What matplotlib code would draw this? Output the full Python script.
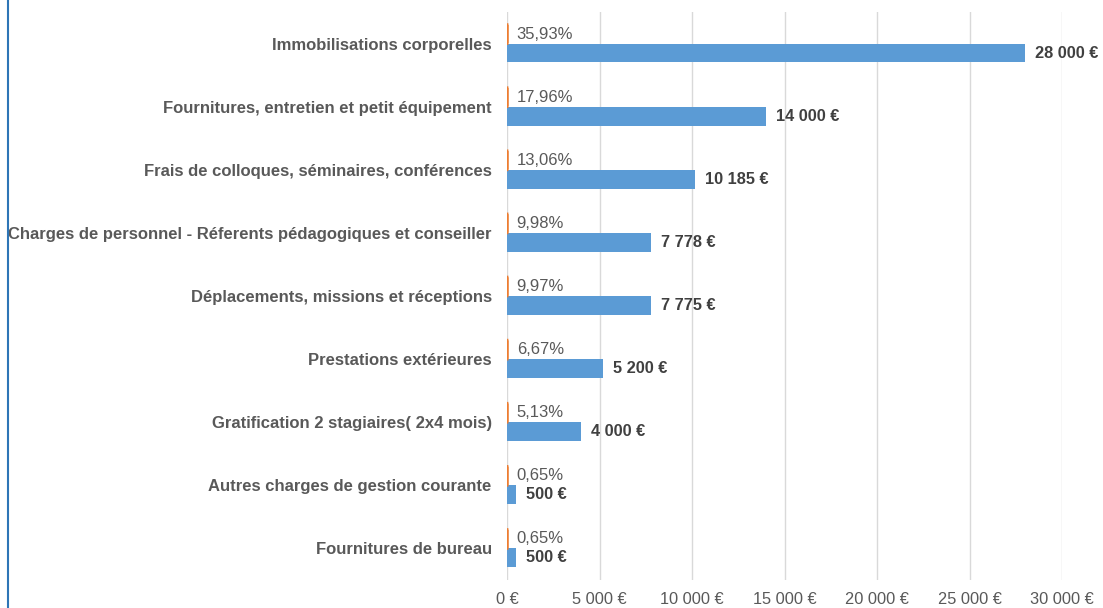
import numpy as np
import matplotlib
matplotlib.use("Agg")
import matplotlib.pyplot as plt
from matplotlib.lines import Line2D

plt.rcParams['font.family'] = ['Liberation Sans', 'DejaVu Sans']

categories = ['Immobilisations corporelles',
              'Fournitures, entretien et petit équipement',
              'Frais de colloques, séminaires, conférences',
              'Charges de personnel - Réferents pédagogiques et conseiller',
              'Déplacements, missions et réceptions',
              'Prestations extérieures',
              'Gratification 2 stagiaires( 2x4 mois)',
              'Autres charges de gestion courante',
              'Fournitures de bureau']
amounts = [28000, 14000, 10185, 7778, 7775, 5200, 4000, 500, 500]
shares = [0.3593, 0.1796, 0.1306, 0.0998, 0.0997, 0.0667, 0.0513, 0.0065, 0.0065]
xticks = [0, 5000, 10000, 15000, 20000, 25000, 30000]

blue = '#5B9BD5'
orange = '#ED7D31'
grey = '#595959'


def euro(v):
    return f'{v:,.0f}'.replace(',', ' ') + ' €'


fig = plt.figure(figsize=(11.03, 6.08), dpi=100)
ax = fig.add_axes([507 / 1103, 28 / 608, (1062 - 507) / 1103, (596 - 28) / 608])

y = np.arange(len(categories))
h = 0.3
ax.barh(y + h / 2, amounts, height=h, color=blue, zorder=3)
# the shares sit on the same euro axis, so they are only a sliver
ax.barh(y - h / 2, shares, height=h, color=orange, edgecolor=orange,
        linewidth=2, snap=False, zorder=4)

for yi, a, s in zip(y, amounts, shares):
    ax.annotate(f'{s * 100:.2f}%'.replace('.', ','), (0, yi - h / 2),
                xytext=(7, 0), textcoords='offset points', va='center',
                ha='left', fontsize=12, color=grey)
    ax.annotate(euro(a), (a, yi + h / 2), xytext=(7, 0),
                textcoords='offset points', va='center', ha='left',
                fontsize=11.8, fontweight='bold', color='#404040')

ax.set_ylim(len(categories) - 0.5, -0.5)
ax.set_xlim(0, 30000)
ax.set_yticks(y)
ax.set_yticklabels(categories, fontsize=12, fontweight='bold', color=grey)
ax.set_xticks(xticks)
ax.set_xticklabels([euro(t) for t in xticks], fontsize=11.8, color=grey)
ax.tick_params(length=0, axis='both')
ax.tick_params(axis='x', pad=9)
ax.tick_params(axis='y', pad=11)
ax.grid(axis='x', color='#D9D9D9', linewidth=1, zorder=0)
for sp in ax.spines.values():
    sp.set_visible(False)

fig.add_artist(Line2D([8 / 1103, 8 / 1103], [0, 1], color='#2E75B6',
                      linewidth=1.5, transform=fig.transFigure))

fig.savefig('out.png', dpi=100)
